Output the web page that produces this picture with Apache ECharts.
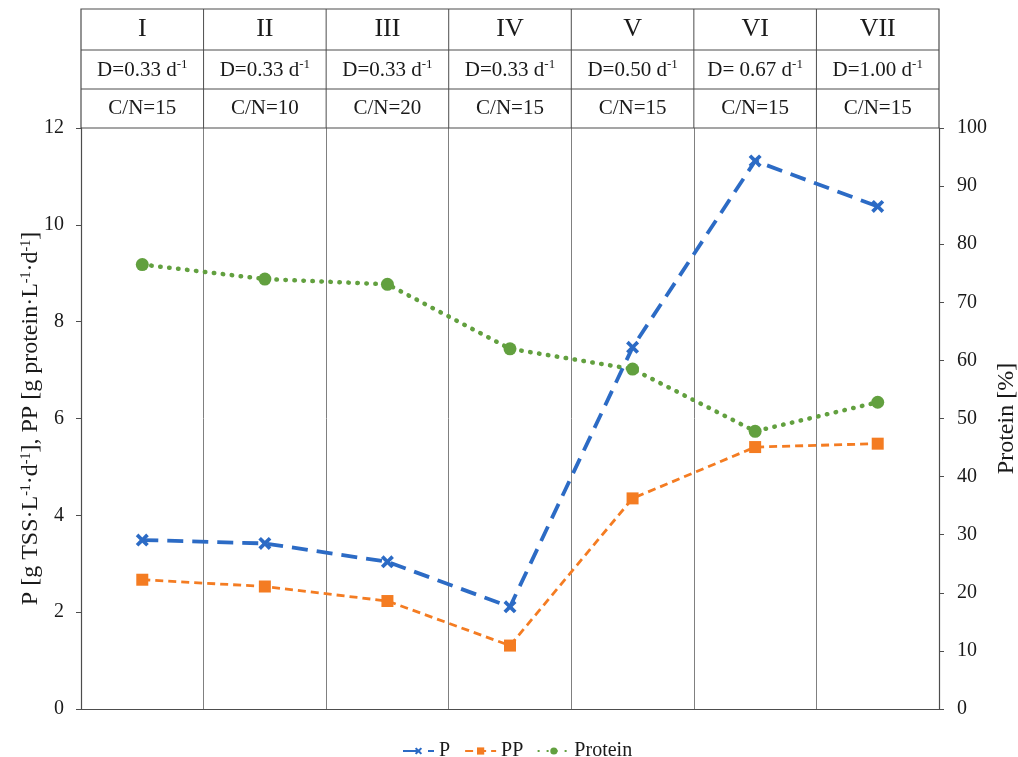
<!DOCTYPE html>
<html>
<head>
<meta charset="utf-8">
<script src="https://cdn.jsdelivr.net/npm/echarts@6/dist/echarts.min.js"></script>
<style>html,body{margin:0;padding:0;background:#fff;}#c{width:1018px;height:757px;}</style>
</head>
<body>
<div id="c"></div>
<script>
// ---- data ----
const periods = ['I', 'II', 'III', 'IV', 'V', 'VI', 'VII'];
const dRates = ['D=0.33', 'D=0.33', 'D=0.33', 'D=0.33', 'D=0.50', 'D= 0.67', 'D=1.00'];
const cnRatios = ['C/N=15', 'C/N=10', 'C/N=20', 'C/N=15', 'C/N=15', 'C/N=15', 'C/N=15'];
const P = [3.49, 3.42, 3.04, 2.11, 7.47, 11.32, 10.38];
const PP = [2.67, 2.53, 2.23, 1.31, 4.35, 5.41, 5.48];
const protein = [76.5, 74.0, 73.1, 62.0, 58.5, 47.8, 52.8];
const leftTicks = [0, 12, 2];
const rightTicks = [0, 100, 10];

// ---- layout / style ----
const W = 1018, H = 757;
const gL = 81, gR = 79, gT = 128, gB = 48;
const tableTop = 9, rowLines = [50, 89];
const FONT = "'Liberation Serif', 'Times New Roman', serif";
const lineCol = '#4d4d4d';
const txtCol = '#1a1a1a';
const xPath = 'path://M2,0 L5,3 L8,0 L10,2 L7,5 L10,8 L8,10 L5,7 L2,10 L0,8 L3,5 L0,2 Z';

const chart = echarts.init(document.getElementById('c'), null, {renderer: 'canvas'});

const gw = W - gL - gR;
const cw = gw / periods.length;
const graphics = [];
graphics.push({type: 'rect', shape: {x: gL, y: tableTop, width: gw, height: gT - tableTop},
  style: {fill: 'none', stroke: lineCol, lineWidth: 1.2}, z: 10});
rowLines.forEach(y => graphics.push({type: 'line', shape: {x1: gL, y1: y, x2: gL + gw, y2: y},
  style: {stroke: lineCol, lineWidth: 1}, z: 10}));
for (let i = 1; i < periods.length; i++) {
  const x = gL + i * cw;
  graphics.push({type: 'line', shape: {x1: x, y1: tableTop, x2: x, y2: gT},
    style: {stroke: lineCol, lineWidth: 1}, z: 10});
}
const rowCenters = [(tableTop + rowLines[0]) / 2, (rowLines[0] + rowLines[1]) / 2 + 1, (rowLines[1] + gT) / 2];
periods.forEach((p, i) => {
  const cx = gL + (i + 0.5) * cw;
  graphics.push({type: 'text', x: cx, y: rowCenters[0], z: 11,
    style: {text: p, font: '26px ' + FONT, fill: txtCol, align: 'center', verticalAlign: 'middle'}});
  graphics.push({type: 'text', x: cx, y: rowCenters[1], z: 11,
    style: {text: '{n|' + dRates[i] + ' d}{s|-1}', align: 'center', verticalAlign: 'middle',
      rich: {n: {fontSize: 21, fontFamily: FONT, fill: txtCol, color: txtCol, lineHeight: 24},
             s: {fontSize: 13, fontFamily: FONT, fill: txtCol, color: txtCol, lineHeight: 12, verticalAlign: 'top'}}}});
  graphics.push({type: 'text', x: cx, y: rowCenters[2], z: 11,
    style: {text: cnRatios[i], font: '21px ' + FONT, fill: txtCol, align: 'center', verticalAlign: 'middle'}});
});

const supRich = {s: {fontSize: 14, fontFamily: FONT, color: txtCol, verticalAlign: 'top', lineHeight: 12}};

chart.setOption({
  animation: false,
  backgroundColor: '#fff',
  textStyle: {fontFamily: FONT},
  grid: {left: gL, right: gR, top: gT, bottom: gB, containLabel: false, outerBoundsMode: 'none'},
  legend: {
    top: 736, left: 397, itemWidth: 31, itemHeight: 9, itemGap: 14,
    textStyle: {fontFamily: FONT, fontSize: 20, color: txtCol},
    data: ['P', 'PP', 'Protein']
  },
  xAxis: {
    type: 'category', data: periods, boundaryGap: true,
    axisLine: {show: true, lineStyle: {color: lineCol, width: 1.2}},
    axisTick: {show: false}, axisLabel: {show: false},
    splitLine: {show: true, interval: 0, lineStyle: {color: '#808080', width: 1}}
  },
  yAxis: [{
    type: 'value', min: leftTicks[0], max: leftTicks[1], interval: leftTicks[2],
    name: 'P [g TSS·L{s|-1}·d{s|-1}], PP [g protein·L{s|-1}·d{s|-1}]',
    nameLocation: 'middle', nameRotate: 90, nameGap: 38, nameMoveOverlap: false,
    nameTextStyle: {fontFamily: FONT, fontSize: 24, color: txtCol, rich: supRich},
    axisLine: {show: true, lineStyle: {color: lineCol, width: 1.2}},
    axisTick: {show: true, length: 5, lineStyle: {color: lineCol}},
    axisLabel: {fontFamily: FONT, fontSize: 20, color: txtCol, margin: 17},
    splitLine: {show: false}
  }, {
    type: 'value', min: rightTicks[0], max: rightTicks[1], interval: rightTicks[2],
    name: 'Protein [%]', nameLocation: 'middle', nameRotate: 90, nameGap: 56, nameMoveOverlap: false,
    nameTextStyle: {fontFamily: FONT, fontSize: 24, color: txtCol},
    axisLine: {show: true, lineStyle: {color: lineCol, width: 1.2}},
    axisTick: {show: true, length: 5, lineStyle: {color: lineCol}},
    axisLabel: {fontFamily: FONT, fontSize: 20, color: txtCol, margin: 18},
    splitLine: {show: false}
  }],
  series: [{
    name: 'P', type: 'line', data: P, yAxisIndex: 0,
    symbol: xPath, symbolSize: 13, color: '#2c6bc5',
    lineStyle: {color: '#2c6bc5', width: 3.8, type: [16, 9]},
    itemStyle: {color: '#2c6bc5'}, z: 5
  }, {
    name: 'PP', type: 'line', data: PP, yAxisIndex: 0,
    symbol: 'rect', symbolSize: 12, color: '#f47c22',
    lineStyle: {color: '#f47c22', width: 2.8, type: [8, 5]},
    itemStyle: {color: '#f47c22'}, z: 4
  }, {
    name: 'Protein', type: 'line', data: protein, yAxisIndex: 1,
    symbol: 'circle', symbolSize: 13, color: '#62a03f',
    lineStyle: {color: '#62a03f', width: 4.5, type: [0.5, 8.5], cap: 'round'},
    itemStyle: {color: '#62a03f'}, z: 3
  }],
  graphic: graphics
});
</script>
</body>
</html>
